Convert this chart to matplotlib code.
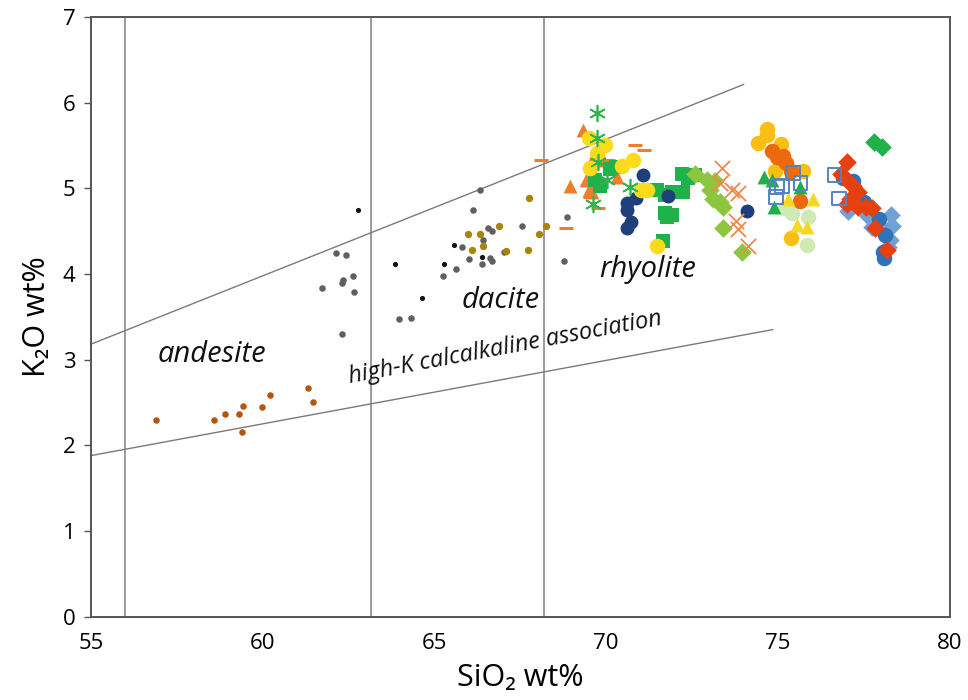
import matplotlib
matplotlib.use('Agg')
import matplotlib.pyplot as plt

plt.rcParams['font.family'] = ['Open Sans', 'DejaVu Sans']

# classification lines (SiO2 boundaries and K2O series boundaries)
vlines_x = [56, 63.15, 68.2]
upper_x = [55, 74.0]
upper_y = [3.18, 6.21]
lower_x = [55, 74.85]
lower_y = [1.88, 3.35]

# small dots (andesite / dacite)
andesite_x = [56.89, 58.58, 58.90, 59.31, 59.42, 59.98, 60.21, 59.39, 61.32, 61.46]
andesite_y = [2.29, 2.29, 2.36, 2.36, 2.46, 2.45, 2.59, 2.15, 2.67, 2.50]

grey_x = [62.13, 62.42, 62.63, 62.33, 62.30, 62.65, 61.72, 62.30, 63.96, 64.31,
          66.32, 66.12, 66.55, 66.67, 66.41, 65.80, 66.00, 65.62, 65.24, 66.38,
          66.61, 66.67, 67.02, 67.54, 68.85, 68.77]
grey_y = [4.24, 4.22, 3.98, 3.93, 3.89, 3.79, 3.84, 3.30, 3.47, 3.49,
          4.98, 4.75, 4.54, 4.50, 4.39, 4.31, 4.17, 4.06, 3.98, 4.11,
          4.19, 4.15, 4.26, 4.56, 4.66, 4.15]

black_x = [62.77, 63.85, 64.63, 65.56, 65.27, 66.38]
black_y = [4.74, 4.11, 3.72, 4.34, 4.12, 4.20]

olive_x = [67.75, 66.87, 65.97, 66.32, 66.41, 66.09, 67.08, 67.72, 68.04, 68.24]
olive_y = [4.89, 4.56, 4.47, 4.47, 4.33, 4.28, 4.27, 4.28, 4.46, 4.56]

# rhyolite groups
otri_x = [69.32, 68.94, 69.41, 69.49, 69.58, 70.31, 69.6, 69.9]
otri_y = [5.68, 5.02, 5.10, 4.98, 4.95, 5.13, 5.33, 5.33]

odash_x = [68.10, 68.82, 70.83, 71.09, 69.73, 70.05, 69.52, 69.76]
odash_y = [5.33, 4.53, 5.50, 5.45, 5.34, 5.33, 4.90, 4.77]

gast_x = [69.73, 69.73, 69.76, 70.02, 70.69, 69.61]
gast_y = [5.88, 5.58, 5.31, 5.10, 5.01, 4.81]

ycirc_x = [69.49, 69.96, 69.73, 69.52, 70.45, 70.77, 71.01, 71.18, 71.47]
ycirc_y = [5.59, 5.50, 5.41, 5.23, 5.26, 5.33, 4.98, 4.98, 4.32]

gsq_x = [69.67, 69.81, 70.10, 70.28, 71.47, 71.71, 71.91, 72.20, 72.37, 72.23,
         72.58, 71.71, 71.91, 71.76, 71.65]
gsq_y = [5.10, 5.02, 5.22, 5.25, 4.98, 4.92, 4.96, 5.16, 5.12, 4.95,
         5.15, 4.71, 4.69, 4.66, 4.38]

lgdia_x = [72.58, 72.93, 73.16, 73.01, 73.10, 73.31, 73.39, 73.39, 73.95]
lgdia_y = [5.16, 5.10, 5.08, 4.98, 4.87, 4.84, 4.78, 4.54, 4.25]

navy_x = [71.07, 70.86, 70.60, 70.60, 70.72, 70.60, 71.79, 74.09]
navy_y = [5.15, 4.89, 4.83, 4.75, 4.61, 4.54, 4.91, 4.73]

ox_x = [73.36, 73.31, 73.66, 73.83, 73.77, 73.83, 74.12]
ox_y = [5.24, 5.06, 4.98, 4.94, 4.62, 4.52, 4.33]

gold_x = [74.67, 74.67, 74.41, 75.08, 75.14, 74.91, 75.72, 75.37]
gold_y = [5.69, 5.62, 5.53, 5.52, 5.30, 5.20, 5.20, 4.42]

dorange_x = [74.82, 74.97, 75.14, 75.23, 75.37, 75.63]
dorange_y = [5.43, 5.36, 5.37, 5.29, 5.20, 4.85]

gtri_x = [74.59, 74.82, 75.63, 74.88]
gtri_y = [5.13, 5.10, 5.01, 4.78]

bsq_x = [74.97, 74.94, 75.11, 75.43, 75.66, 76.65, 76.77]
bsq_y = [5.01, 4.90, 5.03, 5.18, 5.06, 5.15, 4.88]

ytri_x = [75.29, 76.01, 75.55, 75.84]
ytri_y = [4.87, 4.87, 4.57, 4.55]

lgcirc_x = [75.20, 75.40, 75.87, 75.84]
lgcirc_y = [4.77, 4.71, 4.66, 4.34]

red_x = [77.00, 76.83, 77.03, 77.18, 77.32, 77.09, 77.00, 77.32, 77.56, 77.73, 77.82, 78.17]
red_y = [5.30, 5.16, 5.08, 5.02, 4.96, 4.87, 4.81, 4.78, 4.78, 4.77, 4.54, 4.28]

bcirc_x = [77.18, 77.50, 77.93, 78.11, 78.05, 78.08, 76.89]
bcirc_y = [5.08, 4.84, 4.64, 4.45, 4.25, 4.18, 5.12]

lbdia_x = [77.03, 77.61, 77.73, 78.28, 78.31, 78.25, 78.22]
lbdia_y = [4.73, 4.67, 4.55, 4.69, 4.56, 4.39, 4.31]

gdia_x = [77.79, 78.02]
gdia_y = [5.54, 5.48]

fig = plt.figure(figsize=(9.68, 7), dpi=100)
ax = fig.add_axes([0.094, 0.119, 0.887, 0.857])

for x in vlines_x:
    ax.axvline(x, color='#8a8a8a', lw=1.2, zorder=1)
ax.plot(upper_x, upper_y, color='#7a7a7a', lw=1.0, zorder=1)
ax.plot(lower_x, lower_y, color='#7a7a7a', lw=1.0, zorder=1)

# small dots
ax.scatter(andesite_x, andesite_y, s=22, color='#b4560f', lw=0, zorder=3)
ax.scatter(grey_x, grey_y, s=22, color='#5f5f5f', lw=0, zorder=3)
ax.scatter(black_x, black_y, s=14, color='#111111', lw=0, zorder=3)
ax.scatter(olive_x, olive_y, s=28, color='#a8850a', lw=0, zorder=3)

big = 100
ax.scatter(otri_x, otri_y, s=big, marker='^', color='#ef7d2c', lw=0, zorder=3)
ax.scatter(odash_x, odash_y, s=big, marker='_', color='#ef7d2c', lw=2.2, zorder=3)
ax.scatter(gsq_x, gsq_y, s=big + 10, marker='s', color='#1fb24a', lw=0, zorder=4)
ax.scatter(ycirc_x, ycirc_y, s=big + 25, marker='o', color='#fbdb1c', lw=0, zorder=5)
ax.scatter(gast_x, gast_y, s=big + 30, marker=(6, 2, 0), color='#2fb34a', lw=1.2, zorder=6)
ax.scatter(lgdia_x, lgdia_y, s=big - 10, marker='D', color='#8cc63f', lw=0, zorder=4)
ax.scatter(navy_x, navy_y, s=big, marker='o', color='#1e3f7a', lw=0, zorder=4)
ax.scatter(ox_x, ox_y, s=big + 20, marker='x', color='#f0894b', lw=1.3, zorder=4)

ax.scatter(lgcirc_x, lgcirc_y, s=big + 25, marker='o', color='#cfeab5', lw=0, zorder=3)
ax.scatter(gold_x, gold_y, s=big + 25, marker='o', color='#fbbf14', lw=0, zorder=4)
ax.scatter(dorange_x, dorange_y, s=big + 25, marker='o', color='#ea6a0c', lw=0, zorder=4)
ax.scatter(gtri_x, gtri_y, s=big, marker='^', color='#1fae48', lw=0, zorder=5)
ax.scatter(ytri_x, ytri_y, s=big, marker='^', color='#f6d820', lw=0, zorder=5)
ax.scatter(bsq_x, bsq_y, s=big, marker='s', facecolors='none', edgecolors='#5584c0', lw=1.4, zorder=6)

ax.scatter(lbdia_x, lbdia_y, s=big - 10, marker='D', color='#6fa0d6', lw=0, zorder=3)
ax.scatter(bcirc_x, bcirc_y, s=big + 25, marker='o', color='#2e72b8', lw=0, zorder=4)
ax.scatter(red_x, red_y, s=big - 10, marker='D', color='#e5400f', lw=0, zorder=5)
ax.scatter(gdia_x, gdia_y, s=big - 10, marker='D', color='#1fb24a', lw=0, zorder=5)

# field names
ax.text(56.95, 2.97, 'andesite', fontsize=21, style='italic', color='#111111')
ax.text(65.8, 3.6, 'dacite', fontsize=21, style='italic', color='#111111')
ax.text(69.8, 3.96, 'rhyolite', fontsize=21, style='italic', color='#111111')
ax.text(62.55, 2.72, 'high-K calcalkaline association', fontsize=17, style='italic',
        color='#111111', rotation=10.6, rotation_mode='anchor')

ax.set_xlim(55, 80)
ax.set_ylim(0, 7)
ax.set_xticks([55, 60, 65, 70, 75, 80])
ax.set_yticks(range(0, 8))
ax.tick_params(axis='y', direction='out', length=5, width=1, color='#555555', labelsize=16, pad=6)
ax.tick_params(axis='x', length=0, labelsize=16, pad=12)
for sp in ax.spines.values():
    sp.set_color('#555555')
    sp.set_linewidth(1.4)

ax.set_xlabel('SiO\u2082 wt%', fontsize=22, labelpad=6)
ax.set_ylabel('K\u2082O wt%', fontsize=22, labelpad=8)

fig.savefig('out.png', dpi=100)
